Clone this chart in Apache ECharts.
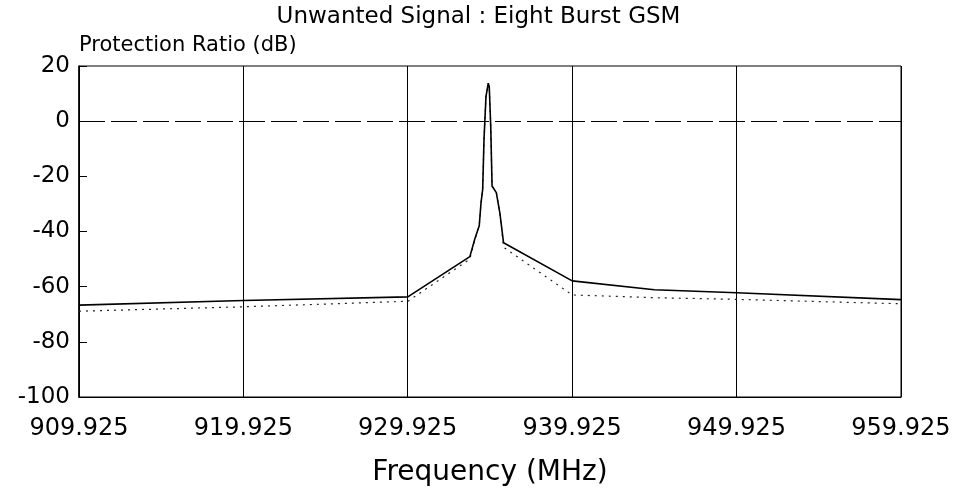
<!DOCTYPE html>
<html>
<head>
<meta charset="utf-8">
<script src="https://cdn.jsdelivr.net/npm/echarts@6/dist/echarts.min.js"></script>
<style>html,body{margin:0;padding:0;background:#fff}#c{width:957px;height:492px}</style>
</head>
<body>
<div id="c"></div>
<script>
var xTicks = [909.925, 919.925, 929.925, 939.925, 949.925, 959.925];
var yTicks = [20, 0, -20, -40, -60, -80, -100];

var solidFreq = [909.925, 919.925, 929.925, 933.70, 934.00, 934.27, 934.38, 934.48, 934.56, 934.68, 934.82, 934.88, 934.97, 935.05, 935.31, 935.53, 935.75, 939.925, 944.925, 949.925, 959.925];
var solidDb   = [-66.7,   -65.0,   -63.7,   -49.1,  -42.7,  -37.9,  -29.5,  -24.7,  -6.7,   8.9,    13.8,   12.5,   -1.9,   -23.5,  -25.9,  -33.5,  -44.1,  -57.9,   -61.1,   -62.2,   -64.7];

var dotFreq = [909.925, 919.925, 929.925, 933.70, 934.00, 934.27, 934.38, 934.48, 934.56, 934.68, 934.82, 934.88, 934.97, 935.05, 935.31, 935.53, 935.75, 939.925, 944.925, 949.925, 959.925];
var dotDb   = [-68.9,   -67.3,   -65.3,   -50.0,  -43.0,  -38.0,  -29.5,  -24.7,  -6.7,   8.9,    13.8,   12.5,   -1.9,   -23.5,  -25.9,  -33.5,  -45.7,  -63.0,   -64.0,   -64.6,   -66.2];

function pairs(xs, ys){ return xs.map(function(x,i){ return [x, ys[i]]; }); }
function nearestTick(v){
  var best = xTicks[0];
  xTicks.forEach(function(t){ if (Math.abs(t - v) < Math.abs(best - v)) best = t; });
  return best.toFixed(3);
}

var chart = echarts.init(document.getElementById('c'));
var FONT = 'DejaVu Sans';
chart.setOption({
  animation: false,
  backgroundColor: '#fff',
  title: {
    text: 'Unwanted Signal : Eight Burst GSM',
    left: 'center', top: 1,
    textStyle: { fontFamily: FONT, fontSize: 23, fontWeight: 'normal', color: '#000' }
  },
  grid: { left: 79, right: 56, top: 66, bottom: 93, show: true, borderColor: '#000', borderWidth: 1 },
  xAxis: {
    type: 'value', min: xTicks[0], max: xTicks[xTicks.length-1], interval: 10,
    name: 'Frequency (MHz)', nameLocation: 'middle', nameGap: 62,
    nameTextStyle: { fontFamily: FONT, fontSize: 28, color: '#000' },
    axisLine: { show: true, onZero: false, lineStyle: { color: '#000', width: 1.2 } },
    axisTick: { show: false },
    splitLine: { show: true, lineStyle: { color: '#000', width: 1 } },
    axisLabel: { fontFamily: FONT, fontSize: 24, color: '#000', margin: 20, formatter: nearestTick }
  },
  yAxis: {
    type: 'value', min: -100, max: 20, interval: 20,
    name: 'Protection Ratio (dB)', nameLocation: 'end', nameGap: 10,
    nameTextStyle: { fontFamily: FONT, fontSize: 21, color: '#000', align: 'left' },
    axisLine: { show: true, lineStyle: { color: '#000', width: 1.5 } },
    axisTick: { show: true, inside: true, length: 8, lineStyle: { color: '#000' } },
    splitLine: { show: false },
    axisLabel: { fontFamily: FONT, fontSize: 23, color: '#000', margin: 9 }
  },
  series: [
    {
      type: 'line', data: pairs(dotFreq, dotDb), symbol: 'none', z: 2,
      lineStyle: { color: '#222', width: 1.2, type: [2, 5] }
    },
    {
      type: 'line', data: pairs(solidFreq, solidDb), symbol: 'none', z: 3,
      lineStyle: { color: '#000', width: 1.6 },
      markLine: {
        silent: true, symbol: 'none', label: { show: false },
        lineStyle: { color: '#000', width: 1, type: [26, 6] },
        data: [{ yAxis: 0 }]
      }
    }
  ]
});
</script>
</body>
</html>
